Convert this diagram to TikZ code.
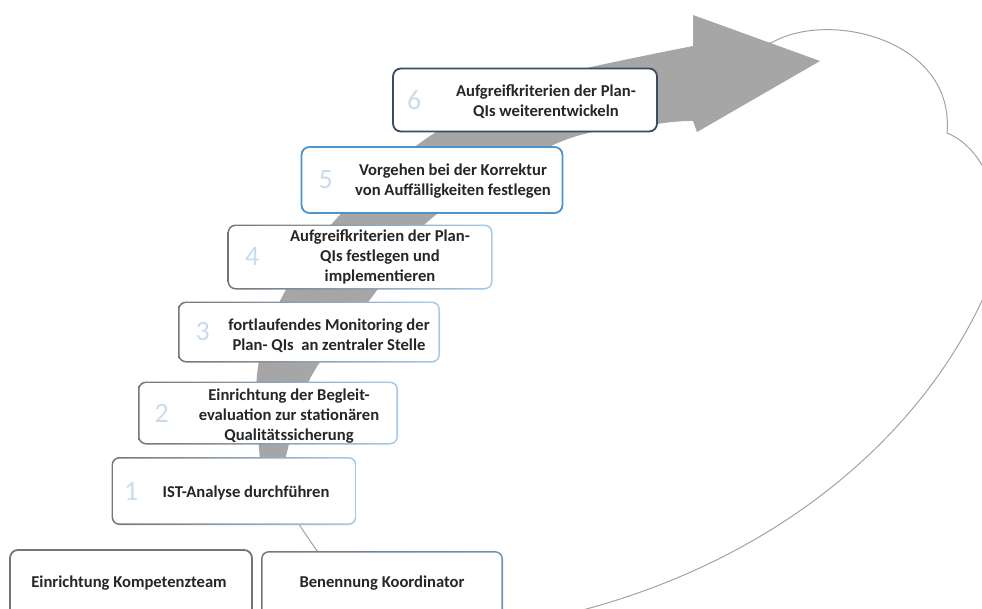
\documentclass[tikz,border=0pt]{standalone}
\usepackage{fontspec}
\setmainfont{Carlito}
\usetikzlibrary{positioning}

\definecolor{arrowgray}{RGB}{166,166,166}
\definecolor{cloudline}{RGB}{172,160,155}
\definecolor{stepgray}{RGB}{118,118,118}
\definecolor{stepblue}{RGB}{165,203,234}
\definecolor{slateblue}{RGB}{112,150,178}
\definecolor{navyline}{RGB}{58,76,100}
\definecolor{midblue}{RGB}{78,148,204}
\definecolor{numblue}{RGB}{200,220,238}
\definecolor{textdark}{RGB}{38,38,38}

\begin{document}
\begin{tikzpicture}[x=1pt,y=-1pt,
	gradbox/.style 2 args={rounded corners=8pt,inner sep=0pt,path picture={
		\shade[left color=#1,right color=#2] (path picture bounding box.south west) rectangle (path picture bounding box.north east);
		\fill[white,rounded corners=6.5pt] ([shift={(1.6pt,1.6pt)}]path picture bounding box.south west) rectangle ([shift={(-1.6pt,-1.6pt)}]path picture bounding box.north east);}},
	stepbox/.style={gradbox={stepgray}{stepblue}},
	plainbox/.style={draw=#1,line width=1.8pt,fill=white,rounded corners=8pt,inner sep=0pt},
	steptext/.style={align=center,text=textdark,inner sep=0pt,font=\bfseries\fontsize{16.6}{20}\selectfont},
	stepnum/.style={text=numblue,inner sep=0pt,font=\fontsize{28}{28}\selectfont}]
	\useasboundingbox (0,0) rectangle (982,608);
	\clip (0,0) rectangle (982,608);

	% cloud behind everything
	\draw[cloudline,line width=1pt,fill=white] (298,523) -- (317,551) -- (470,600) -- (540,620)
		.. controls (760,575) and (930,440) .. (995,270)
		.. controls (1010,220) and (990,150) .. (947,133)
		.. controls (955,40) and (830,10) .. (773,42)
		-- (650,80) -- (475,138) -- (385,218) -- (327,297) -- (285,375) -- (273,452) -- cycle;

	% curved arrow
	\fill[arrowgray] plot[smooth,tension=0.6] coordinates {(262,480) (257,375) (282,297) (337,218) (427,138) (530,85) (587,68) (693,46)}
		-- (693,15) -- (820,61) -- (697,132)
		-- plot[smooth,tension=0.6] coordinates {(693,121) (657,124) (560,142) (432,218) (372,297) (312,375) (287,452) (285,480)} -- cycle;

	% steps
	\node[plainbox=navyline,minimum width=264pt,minimum height=63pt]	(s6)	at (525,100)	{};
	\node[plainbox=midblue,minimum width=261pt,minimum height=66pt]	(s5)	at (432,180)	{};
	\node[stepbox,minimum width=265pt,minimum height=65pt]			(s4)	at (360,257)	{};
	\node[stepbox,minimum width=262pt,minimum height=61pt]			(s3)	at (309,332)	{};
	\node[stepbox,minimum width=260pt,minimum height=63pt]			(s2)	at (268,413)	{};
	\node[stepbox,minimum width=245pt,minimum height=68pt]			(s1)	at (234,491)	{};
	\node[plainbox=stepgray,minimum width=242pt,minimum height=90pt]	(team)	at (131,595)	{};
	\node[gradbox={stepgray}{slateblue},minimum width=242pt,minimum height=90pt] (koord) at (382,596) {};

	\node[stepnum] (n6) at ([xshift=22pt]s6.west) {6};
	\node[stepnum] (n5) at ([xshift=25pt]s5.west) {5};
	\node[stepnum] (n4) at ([xshift=25pt]s4.west) {4};
	\node[stepnum] (n3) at ([xshift=25pt]s3.west) {3};
	\node[stepnum] (n2) at ([xshift=24pt]s2.west) {2};
	\node[stepnum] (n1) at ([xshift=20pt]s1.west) {1};

	\node[steptext] (t6) at (546,102) {Aufgreifkriterien der Plan-\\QIs weiterentwickeln};
	\node[steptext] (t5) at (453,181) {Vorgehen bei der Korrektur\\von Auffälligkeiten festlegen};
	\node[steptext] (t4) at (380,257) {Aufgreifkriterien der Plan-\\QIs festlegen und\\implementieren};
	\node[steptext] (t3) at (329,336) {fortlaufendes Monitoring der\\Plan- QIs~ an zentraler Stelle};
	\node[steptext] (t2) at (289,416) {Einrichtung der Begleit-\\evaluation zur stationären\\Qualitätssicherung};
	\node[steptext] (t1) at (246,493) {IST-Analyse durchführen};
	\node[steptext] (tteam) at (129,583) {Einrichtung Kompetenzteam};
	\node[steptext] (tkoord) at (382,583) {Benennung Koordinator};
\end{tikzpicture}
\end{document}
